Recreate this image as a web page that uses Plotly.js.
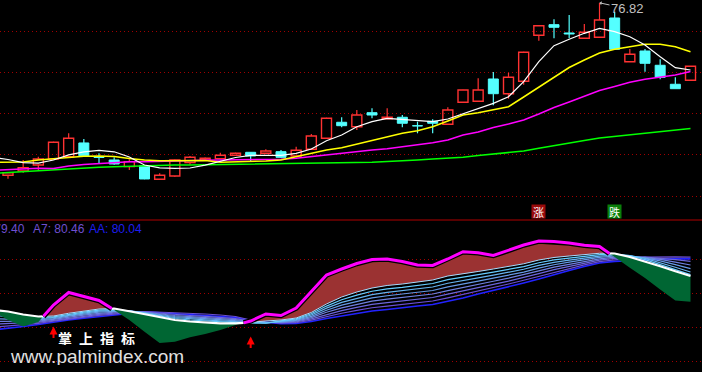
<!DOCTYPE html>
<html><head><meta charset="utf-8">
<script src="https://cdn.plot.ly/plotly-3.0.1.min.js"></script>
<style>html,body{margin:0;padding:0;background:#000;overflow:hidden}#chart{width:702px;height:372px}</style>
</head><body><div id="chart"></div>
<script>
// ---------- candle data (bars 0..45) ----------
const open  = [35.06,36.11,37.56,39.01,39.57,42.89,39.50,38.77,37.15,37.39,34.10,34.89,38.12,38.77,39.09,39.91,40.63,40.39,40.78,39.74,41.36,44.02,47.90,46.83,50.22,48.77,49.11,47.07,48.14,47.41,52.74,52.98,58.38,54.82,57.82,68.96,71.53,69.52,68.23,68.47,73.15,62.57,65.16,61.70,57.10,58.06];
const high  = [35.75,38.77,39.57,43.20,45.23,43.85,40.39,39.42,38.94,37.45,35.55,38.90,39.74,39.40,40.54,40.55,40.70,41.36,41.19,41.99,45.06,49.00,49.11,50.87,51.29,51.29,49.66,48.04,48.62,51.53,55.80,58.55,60.07,59.90,65.00,71.40,72.83,73.87,71.69,76.82,74.67,65.64,65.64,63.15,58.79,61.50];
const low   = [34.24,35.69,36.11,38.90,39.40,39.70,37.97,37.63,36.35,34.10,34.05,34.72,37.63,38.60,39.00,39.85,38.36,40.30,39.30,39.60,41.20,43.90,46.69,46.03,48.86,48.70,46.69,45.23,45.23,47.30,52.60,52.90,52.01,53.61,57.00,67.65,68.23,68.23,68.10,68.40,65.50,62.50,60.15,58.31,56.00,58.00];
const close = [35.69,36.90,39.01,43.05,44.02,39.81,39.37,37.80,38.36,34.17,35.06,38.77,39.42,39.18,39.91,40.39,39.74,40.95,39.42,41.12,44.58,48.86,47.07,49.66,49.66,49.11,47.66,47.00,47.66,50.87,55.72,55.72,54.82,58.79,64.84,71.28,70.90,69.27,69.69,72.66,65.57,64.36,62.18,58.79,56.03,61.45];

// ---------- moving averages (day -1 .. 45) ----------
const ma5  = [39.42,38.89,38.14,37.99,38.77,40.02,40.75,41.11,40.75,39.49,37.55,36.88,36.76,36.83,37.51,38.40,39.37,39.90,39.97,39.90,40.39,41.43,43.44,44.82,46.83,48.04,48.86,48.62,48.28,48.04,48.69,49.97,51.28,52.49,54.09,57.72,62.57,66.44,67.99,69.44,70.65,69.83,68.62,66.61,63.78,61.11,60.56];
const ma10 = [38.21,38.21,38.28,38.77,39.06,39.44,39.66,39.74,39.61,39.13,38.77,38.60,38.60,38.69,38.64,38.21,38.28,38.45,38.52,38.77,39.57,40.39,41.19,41.74,42.57,43.44,44.41,45.23,45.86,46.83,48.21,49.66,50.22,50.87,51.67,54.02,56.44,58.86,61.16,62.98,64.67,65.57,66.20,66.78,66.78,66.20,64.99];
const ma20 = [36.27,36.47,36.71,36.76,36.71,37.31,37.68,37.92,38.16,38.33,38.35,38.47,38.57,38.64,38.69,38.77,38.77,38.77,38.81,38.93,39.18,39.57,40.14,40.39,40.78,41.19,41.50,41.98,42.57,42.95,43.61,44.82,45.55,46.63,47.48,48.45,49.90,51.48,52.81,54.14,55.59,56.56,57.58,58.31,58.86,59.35,60.19];
const ma60 = [35.50,35.74,35.98,36.22,36.47,36.71,36.88,37.02,37.14,37.26,37.41,37.51,37.55,37.55,37.60,37.65,37.70,37.75,37.80,37.85,37.92,37.97,37.97,38.04,38.11,38.21,38.40,38.52,38.77,39.01,39.18,39.42,39.85,40.22,40.58,40.94,41.60,42.28,42.88,43.49,44.09,44.46,44.94,45.30,45.66,45.91,46.39];

// ---------- indicator panel (day -1 .. 45) ----------
const kLine = [67.00,64.75,63.13,64.25,68.50,71.63,70.63,69.63,67.25,64.75,61.83,59.00,59.33,60.43,61.25,62.25,63.50,64.50,66.25,65.88,67.75,72.00,76.00,77.50,78.88,79.88,80.00,79.38,78.50,78.38,80.00,81.83,81.58,80.88,82.13,83.50,84.50,84.38,84.00,83.43,83.13,80.50,77.83,75.25,72.38,69.63,69.33];
const a1 = [67.25,66.88,66.13,65.63,65.75,66.43,67.00,67.50,67.63,66.93,66.25,65.38,64.75,64.38,64.13,63.93,63.93,64.13,64.50,64.75,65.25,66.63,68.75,70.50,71.75,72.75,73.38,73.75,74.25,74.75,75.75,76.25,76.88,77.50,78.18,78.80,79.75,80.38,80.75,81.08,81.43,81.38,80.50,79.43,78.18,76.93,75.75];
const a2 = [66.54,66.27,65.70,65.34,65.54,66.19,66.74,67.23,67.40,67.00,66.50,65.75,65.13,64.75,64.50,64.25,64.08,64.00,63.95,64.55,65.05,66.31,68.23,69.82,70.98,71.93,72.52,72.91,73.39,73.88,74.84,75.39,76.08,76.73,77.44,78.11,79.07,79.77,80.23,80.66,81.08,81.25,80.85,79.85,78.60,77.35,76.10];
const a3 = [65.82,65.66,65.27,65.06,65.32,65.95,66.48,66.96,67.16,67.05,66.56,65.92,65.38,65.03,64.79,64.54,64.33,64.13,64.00,64.40,64.86,65.99,67.71,69.14,70.21,71.11,71.66,72.07,72.54,73.00,73.93,74.54,75.27,75.96,76.70,77.43,78.39,79.17,79.71,80.24,80.74,81.00,80.85,80.15,79.10,77.95,76.75];
const a4 = [65.11,65.06,64.84,64.77,65.11,65.71,66.22,66.70,66.93,67.05,66.63,66.08,65.63,65.32,65.08,64.83,64.59,64.25,64.05,64.28,64.66,65.67,67.20,68.46,69.45,70.29,70.81,71.23,71.68,72.13,73.02,73.68,74.47,75.20,75.96,76.74,77.71,78.56,79.20,79.82,80.39,80.75,80.70,80.30,79.55,78.60,77.60];
const a5 = [64.39,64.45,64.41,64.49,64.89,65.47,65.96,66.43,66.70,67.00,66.69,66.25,65.88,65.60,65.38,65.13,64.85,64.38,64.13,64.18,64.47,65.35,66.68,67.78,68.68,69.47,69.95,70.39,70.82,71.25,72.11,72.82,73.66,74.43,75.22,76.06,77.03,77.95,78.68,79.40,80.05,80.45,80.55,80.40,79.90,79.20,78.50];
const a6 = [63.68,63.84,63.98,64.20,64.68,65.23,65.70,66.16,66.47,66.88,66.75,66.42,66.13,65.88,65.67,65.42,65.11,64.50,64.18,64.08,64.27,65.02,66.16,67.11,67.91,68.65,69.09,69.56,69.96,70.38,71.20,71.96,72.86,73.66,74.48,75.37,76.36,77.35,78.16,78.97,79.70,80.15,80.40,80.45,80.20,79.85,79.40];
const a7 = [62.96,63.24,63.55,63.91,64.46,64.99,65.43,65.89,66.24,66.70,66.88,66.75,66.63,66.45,66.25,66.00,65.63,64.75,64.25,63.98,64.07,64.70,65.64,66.43,67.14,67.82,68.24,68.72,69.11,69.50,70.28,71.11,72.06,72.89,73.75,74.68,75.68,76.74,77.64,78.55,79.35,79.80,80.20,80.45,80.55,80.55,80.46];
const aa = [62.25,62.63,63.13,63.63,64.25,64.75,65.17,65.63,66.00,66.38,66.81,66.58,66.38,66.17,65.96,65.71,65.37,64.60,64.18,63.85,63.88,64.38,65.12,65.75,66.37,67.00,67.38,67.88,68.25,68.63,69.37,70.25,71.25,72.13,73.01,74.00,75.00,76.13,77.13,78.13,79.01,79.40,79.65,79.85,79.98,80.03,80.04];

// signals
const upLabelBar = 35, downLabelBar = 40;
const arrowBars = [3, 16];
const arrowLevels = [63.1, 60.6];
const priceGrid = [70, 60, 50, 40, 30];
const indGrid = [80, 71.5, 63, 54.5];

// ---------- build ----------
const W = 702, H = 372;
const px = v => v / W, py = v => (H - v) / H;
const bars = open.map((_, i) => i);
const lineDays = [-1].concat(bars);
const FONT = 'Liberation Sans, Arial, sans-serif';
const traces = [];

const upIdx = bars.filter(i => close[i] >= open[i]);
const dnIdx = bars.filter(i => close[i] < open[i]);
function bodyTrace(idx, color, filled) {
  return {type:'bar', x: idx, base: idx.map(i => Math.min(open[i], close[i])),
    y: idx.map(i => Math.abs(close[i] - open[i])), width: 0.66,
    marker:{color: filled ? color : 'rgba(0,0,0,0)', line:{color: color, width: filled ? 1 : 1.4}},
    xaxis:'x', yaxis:'y', hoverinfo:'skip'};
}
function wickTrace(idx, color) {
  const xs = [], ys = [];
  idx.forEach(i => {
    const top = Math.max(open[i], close[i]), bot = Math.min(open[i], close[i]);
    if (high[i] > top) { xs.push(i, i, null); ys.push(high[i], top, null); }
    if (low[i] < bot) { xs.push(i, i, null); ys.push(bot, low[i], null); }
  });
  return {type:'scatter', mode:'lines', x: xs, y: ys, line:{color: color, width: 1.2},
    xaxis:'x', yaxis:'y', hoverinfo:'skip'};
}
const RED = '#ff3232', CYAN = '#54ffff';
traces.push(bodyTrace(upIdx, RED, false));
traces.push(bodyTrace(dnIdx, CYAN, true));
traces.push(wickTrace(upIdx, RED));
traces.push(wickTrace(dnIdx, CYAN));
[[ma60,'#00ff00',1.5],[ma20,'#ff00ff',1.5],[ma10,'#ffff00',1.5],[ma5,'#ffffff',1.2]].forEach(([arr,c,w]) => {
  traces.push({type:'scatter', mode:'lines', x: lineDays, y: arr, line:{color:c, width:w}, xaxis:'x', yaxis:'y', hoverinfo:'skip'});
});

// indicator fan lines
[[aa,'#2222ff',1.6],[a7,'#6a4fd4',1.2],[a6,'#6c66dc',1.2],[a5,'#6f80e0',1.2],[a4,'#6699e6',1.2],[a3,'#66b3f0',1.2],[a2,'#66ccff',1.2]].forEach(([arr,c,w]) => {
  traces.push({type:'scatter', mode:'lines', x: lineDays, y: arr, line:{color:c, width:w}, xaxis:'x', yaxis:'y2', hoverinfo:'skip'});
});

// segments between K and A1
function segments(xs, a, b) {
  const segs = []; let cur = null;
  for (let i = 0; i < xs.length; i++) {
    const d = a[i] - b[i]; const s = d >= 0 ? 1 : -1;
    if (!cur) { cur = {s, x:[xs[i]], a:[a[i]], b:[b[i]]}; continue; }
    if (s !== cur.s) {
      const d0 = a[i-1] - b[i-1]; const t = d0 / (d0 - d);
      const xc = xs[i-1] + t * (xs[i] - xs[i-1]);
      const yc = a[i-1] + t * (a[i] - a[i-1]);
      cur.x.push(xc); cur.a.push(yc); cur.b.push(yc); segs.push(cur);
      cur = {s, x:[xc, xs[i]], a:[yc, a[i]], b:[yc, b[i]]};
    } else { cur.x.push(xs[i]); cur.a.push(a[i]); cur.b.push(b[i]); }
  }
  segs.push(cur); return segs;
}
const segs = segments(lineDays, kLine, a1);
segs.forEach(sg => {
  traces.push({type:'scatter', mode:'none', x: sg.x.concat(sg.x.slice().reverse()),
    y: sg.a.concat(sg.b.slice().reverse()), fill:'toself',
    fillcolor: sg.s > 0 ? '#9b3232' : '#006633', xaxis:'x', yaxis:'y2', hoverinfo:'skip'});
});
segs.forEach(sg => {
  traces.push({type:'scatter', mode:'lines', x: sg.x, y: sg.b,
    line:{color: sg.s > 0 ? '#a8dcff' : '#ffffff', width: sg.s > 0 ? 1 : 2.2}, xaxis:'x', yaxis:'y2', hoverinfo:'skip'});
});
segs.filter(sg => sg.s > 0).forEach(sg => {
  traces.push({type:'scatter', mode:'lines', x: sg.x, y: sg.a, line:{color:'#000000', width:5.5}, xaxis:'x', yaxis:'y2', hoverinfo:'skip'});
  traces.push({type:'scatter', mode:'lines', x: sg.x, y: sg.a, line:{color:'#ff00ff', width:3}, xaxis:'x', yaxis:'y2', hoverinfo:'skip'});
});

// annotations
const maxHigh = Math.max(...high); const maxBar = high.indexOf(maxHigh);
const last = arr => arr[arr.length - 1].toFixed(2);
const annotations = [
  {xref:'x', yref:'y', x: maxBar, y: maxHigh, text: maxHigh.toFixed(2), showarrow:true, ax: 28, ay: 6,
   arrowhead: 1, arrowsize: 0.7, arrowwidth: 1, arrowcolor:'#c0c0c0', standoff: 0, font:{color:'#c0c0c0', size:13, family: FONT}},
  {xref:'x', yref:'paper', x: upLabelBar, y: py(212), text:'涨', showarrow:false, bgcolor:'#9a0a0a', width:13, height:13, borderpad:0,
   font:{color:'#ffffff', size:11, family:'Noto Sans CJK SC'}},
  {xref:'x', yref:'paper', x: downLabelBar, y: py(212), text:'跌', showarrow:false, bgcolor:'#0a800a', width:13, height:13, borderpad:0,
   font:{color:'#ffffff', size:11, family:'Noto Sans CJK SC'}},
  {xref:'paper', yref:'paper', x: px(27.5), y: py(228.5), xanchor:'right', yanchor:'middle', showarrow:false,
   text:'A6: ' + last(a6), font:{color:'#6f4fd0', size:12, family: FONT}},
  {xref:'paper', yref:'paper', x: px(31), y: py(228.5), xanchor:'left', yanchor:'middle', showarrow:false,
   text:'A7: ' + last(a7), font:{color:'#6f4fd0', size:12, family: FONT}},
  {xref:'paper', yref:'paper', x: px(87), y: py(228.5), xanchor:'left', yanchor:'middle', showarrow:false,
   text:'AA: ' + last(aa), font:{color:'#1e1ef0', size:12, family: FONT}},
  {xref:'paper', yref:'paper', x: px(96), y: py(337.5), xanchor:'center', yanchor:'middle', showarrow:false,
   height: 14, borderpad: 0,
   text:'<b>掌\u2002上\u2002指\u2002标</b>', font:{color:'#ffffff', size:14, family:'Noto Sans CJK SC'}},
  {xref:'paper', yref:'paper', x: px(9), y: py(355.5), xanchor:'left', yanchor:'middle', showarrow:false,
   height: 18, borderpad: 0,
   text:'www.palmindex.com', font:{color:'#e0e0e0', size:19, family: FONT}}
];
arrowBars.forEach((b, k) => {
  annotations.push({xref:'x', yref:'y2', x: b, y: arrowLevels[k], text:'', showarrow:true, ax:0, ay:13,
    arrowhead:2, arrowsize:0.8, arrowwidth:2, arrowcolor:'#ff0000', standoff:0});
});

const pxPerBar = 682.5 / 45, x0px = 8;
const gridStyle = {showticklabels:false, ticks:'', zeroline:false, showline:false, gridcolor:'#a00000', griddash:'1px,3px', gridwidth:1, fixedrange:true};
const layout = {
  width: W, height: H, margin:{l:0, r:0, t:0, b:0}, paper_bgcolor:'#000', plot_bgcolor:'#000',
  showlegend:false, hovermode:false, barmode:'overlay',
  xaxis:{range:[-x0px / pxPerBar, (W - x0px) / pxPerBar], visible:false, fixedrange:true, anchor:'y2'},
  yaxis:Object.assign({domain:[(H - 219) / H, 1], range:[24.48, 77.505], tickvals: priceGrid, anchor:'x'}, gridStyle),
  yaxis2:Object.assign({domain:[0, (H - 221) / H], range:[51.75, 89.5], tickvals: indGrid, anchor:'x'}, gridStyle),
  shapes:[{type:'line', xref:'paper', yref:'paper', x0:0, x1:1, y0: py(220), y1: py(220), line:{color:'#b00000', width:1.2}}],
  annotations: annotations
};
Plotly.newPlot('chart', traces, layout, {staticPlot:true, displayModeBar:false});
</script></body></html>
